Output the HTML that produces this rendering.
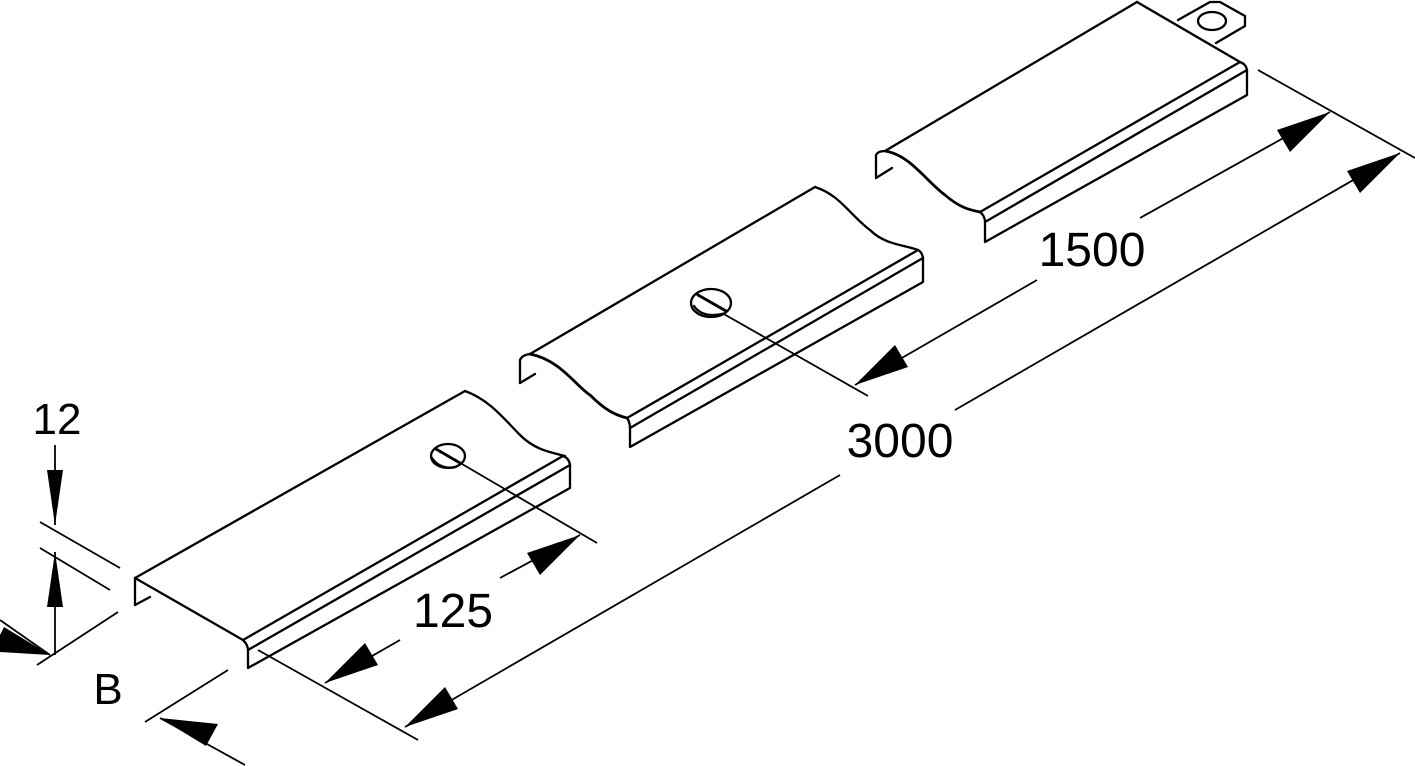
<!DOCTYPE html>
<html><head><meta charset="utf-8"><style>
html,body{margin:0;padding:0;background:#fff;}
svg{display:block;}
text{font-family:"Liberation Sans",sans-serif;fill:#000;}
</style></head><body>
<svg width="1415" height="766" viewBox="0 0 1415 766" xmlns="http://www.w3.org/2000/svg">
<g fill="none" stroke="#000" stroke-width="2.3" stroke-linejoin="round" stroke-linecap="round">
<!-- Piece 1 -->
<path d="M135,605 L135,578 L243,640"/>
<path d="M135,578 L465,391"/>
<path d="M465,391 C490,400 505,420 520,435 C535,450 550,452 565,456"/>
<path d="M150,597 L135,605"/>
<path d="M243,640 Q248,645 248,650 L248,668 L570,488 L570,465 Q569,458 563,456 L243,640"/>
<path d="M248,650 L570,465"/>
<ellipse cx="448" cy="456" rx="17" ry="12"/>
<path d="M436,449 L460,463" stroke-width="3"/>
<path d="M432,458 Q440,470 456,467"/>
<!-- Piece 2 -->
<path d="M520,383 L520,360 Q522,355 530,354 L815,187"/>
<path d="M520,383 L535,374"/>
<path d="M530,354 C560,360 575,385 590,395 C605,410 615,415 627,418" stroke-width="2.8"/>
<path d="M815,187 C840,195 850,215 870,230 C885,245 905,245 918,250"/>
<path d="M627,418 Q630,422 630,428 L630,447 L923,282 L923,258 Q922,252 918,250 L627,418"/>
<path d="M630,428 L923,258"/>
<ellipse cx="711" cy="303" rx="20" ry="14"/>
<path d="M698,295 L726,311" stroke-width="3"/>
<path d="M694,306 Q702,318 722,314"/>
<!-- Piece 3 -->
<path d="M876,178 L876,155 Q878,151 885,151 L1137,2"/>
<path d="M876,178 L892,168"/>
<path d="M885,151 C910,155 925,180 945,195 C960,208 970,210 980,212" stroke-width="2.8"/>
<path d="M1137,2 L1240,62"/>
<path d="M1178,20 L1210,2 L1220,2 L1245,16 L1245,26 L1216,43"/>
<ellipse cx="1212" cy="21" rx="14" ry="9"/>
<path d="M980,212 Q985,216 985,222 L985,242 L1247,95 L1247,70 Q1246,64 1240,62 L980,212"/>
<path d="M985,222 L1247,70"/>
</g>
<g fill="none" stroke="#000" stroke-width="1.8">
<path d="M462,464 L597,543"/>
<path d="M722,313 L868,396"/>
<path d="M1258,70 L1415,158"/>
<path d="M258,650 L418,740"/>
<path d="M145,722 L228,670"/>
<path d="M37,665 L118,612"/>
<path d="M40,522 L120,568"/>
<path d="M40,548 L110,590"/>
<path d="M1330,112 L1140,218"/>
<path d="M1037,280 L855,385"/>
<path d="M1400,153 L955,410"/>
<path d="M840,475 L405,727"/>
<path d="M580,535 L500,578"/>
<path d="M400,640 L325,683"/>
<path d="M160,718 L245,765"/>
<path d="M0,620 L50,655"/>
<path d="M55,445 L55,525"/>
<path d="M55,552 L55,655"/>
</g>
<g fill="#000" stroke="none">
<polygon points="1330,112 1277,130 1290,152"/>
<polygon points="855,385 908,367 895,345"/>
<polygon points="1400,153 1347,171 1360,193"/>
<polygon points="405,727 458,709 445,687"/>
<polygon points="580,535 527,553 540,575"/>
<polygon points="325,683 378,665 365,643"/>
<polygon points="160,718 206,746 218,724"/>
<polygon points="50,655 4,627 0,635 0,652"/>
<polygon points="55,525 47,470 63,470"/>
<polygon points="55,552 47,607 63,607"/>
</g>
<text x="1092" y="266" font-size="48" text-anchor="middle">1500</text>
<text x="900" y="457" font-size="48" text-anchor="middle">3000</text>
<text x="453" y="627" font-size="48" text-anchor="middle">125</text>
<text x="57" y="434" font-size="44" text-anchor="middle">12</text>
<text x="108" y="704" font-size="44" text-anchor="middle">B</text>
</svg>
</body></html>
